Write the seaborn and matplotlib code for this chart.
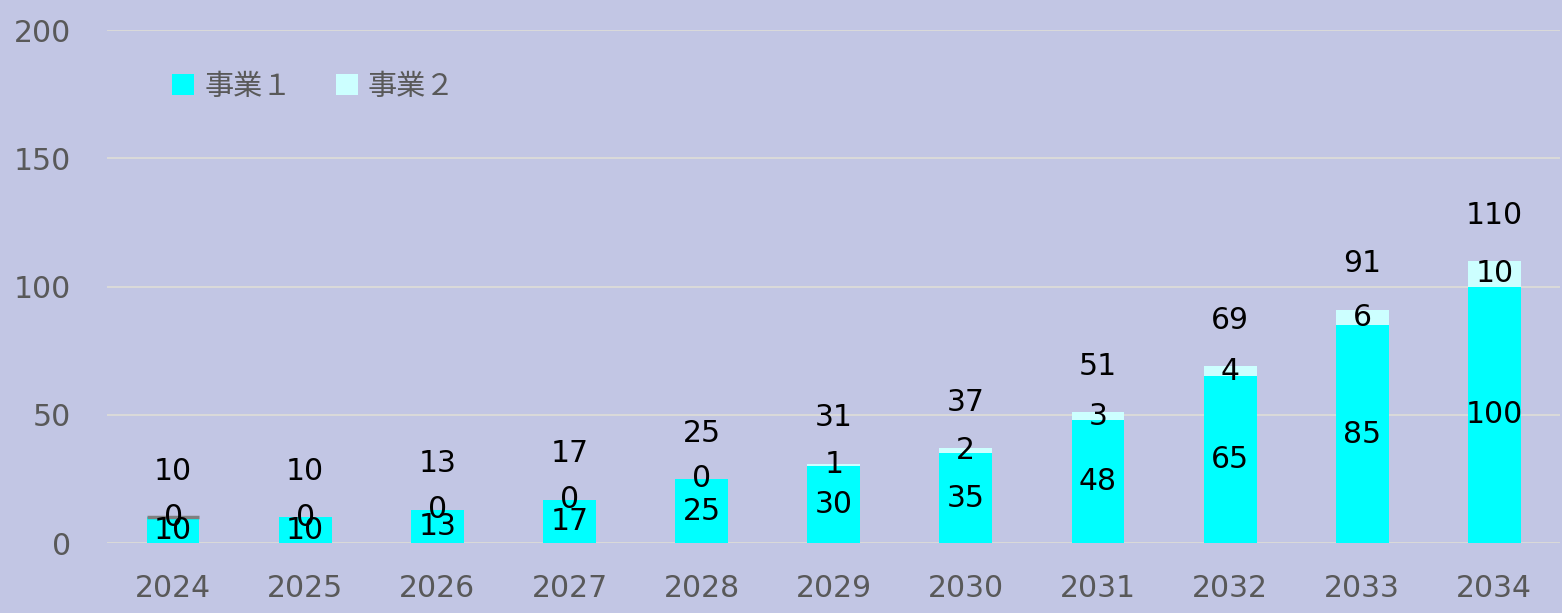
import numpy as np
import matplotlib
matplotlib.use('Agg')
import matplotlib.pyplot as plt
import seaborn as sns

years = ['2024', '2025', '2026', '2027', '2028', '2029', '2030', '2031', '2032', '2033', '2034']
biz1 = [10, 10, 13, 17, 25, 30, 35, 48, 65, 85, 100]
biz2 = [0, 0, 0, 0, 0, 1, 2, 3, 4, 6, 10]
totals = [10, 10, 13, 17, 25, 31, 37, 51, 69, 91, 110]
series_names = ['事業１', '事業２']

bg = '#C2C6E4'
tick_col = '#595959'

sns.set_theme(style='whitegrid')
plt.rcParams['font.family'] = ['DejaVu Sans', 'Noto Sans CJK JP']

fig = plt.figure(figsize=(15.62, 6.13), dpi=100)
fig.patch.set_facecolor(bg)
ax = fig.add_axes([0.0685, 0.114, 0.9305, 0.837])
ax.set_facecolor(bg)

sns.barplot(x=years, y=biz1, color='#00FFFF', width=0.4, saturation=1,
            linewidth=0, edgecolor='none', label=series_names[0], ax=ax)
pos = np.arange(len(years))
# first year shows a grey outline on the empty top segment
edges = ['#7F7F7F'] + ['none'] * (len(years) - 1)
top = ax.bar(pos, biz2, bottom=biz1, width=0.4, color='#CCFFFF',
             edgecolor=edges, linewidth=2.5, label=series_names[1])

ax.bar_label(ax.containers[0], label_type='center', fontsize=21.5, color='black')
ax.bar_label(top, label_type='center', fontsize=21.5, color='black')
for i, t in enumerate(totals):
    ax.annotate(str(t), (i, t), xytext=(0, 33), textcoords='offset points',
                ha='center', va='center', fontsize=21.5, color='black')

ax.set_ylim(0, 200)
ax.set_yticks([0, 50, 100, 150, 200])
ax.set_xlim(-0.5, len(years) - 0.5)
ax.grid(axis='y', color='#D9D9D9', linewidth=1.5)
ax.grid(axis='x', visible=False)
ax.set_axisbelow(True)
for s in ax.spines.values():
    s.set_visible(False)
ax.tick_params(axis='y', length=0, pad=26, labelsize=21.5, labelcolor=tick_col)
ax.tick_params(axis='x', length=0, pad=22, labelsize=21.5, labelcolor=tick_col)

leg = ax.legend(loc='center left', bbox_to_anchor=(0.027, 0.889), ncol=2,
                frameon=False, handlelength=0.75, handleheight=0.75,
                handletextpad=0.35, columnspacing=1.5,
                prop={'family': ['Noto Sans CJK JP', 'DejaVu Sans'], 'size': 21})
for txt in leg.get_texts():
    txt.set_color(tick_col)
for h in leg.legend_handles:
    h.set_edgecolor('none')

fig.savefig('out.png', dpi=100, facecolor=bg)
